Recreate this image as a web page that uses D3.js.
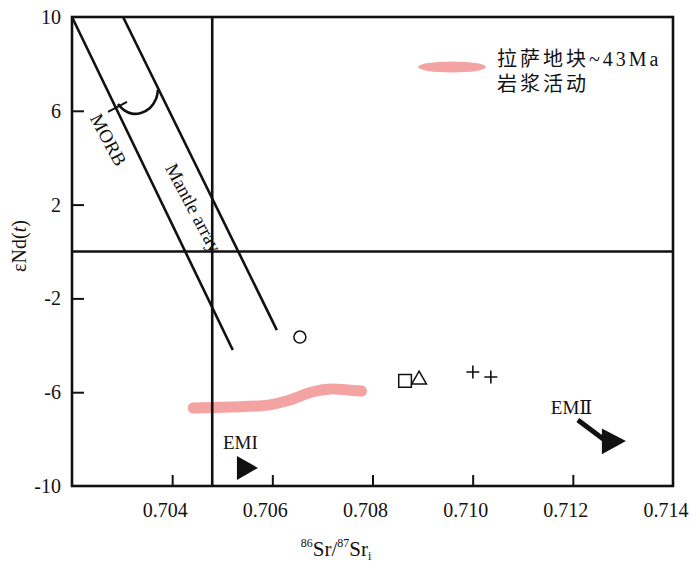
<!DOCTYPE html>
<html><head><meta charset="utf-8">
<script src="https://cdn.jsdelivr.net/npm/d3@7"></script>
<style>html,body{margin:0;padding:0;background:#fff;}</style>
</head><body>
<svg id="c" width="700" height="564"></svg>
<script>
// ---- data ----
const xTicks = [0.704, 0.706, 0.708, 0.710, 0.712, 0.714];
const yTicks = [10, 6, 2, -2, -6, -10];
const xDomain = [0.702, 0.714];
const yDomain = [-10, 10];
const morbLine = [[0.702, 10], [0.70521, -4.2]];
const mantleLine = [[0.70302, 10], [0.70609, -3.35]];
const mantleArc = [[0.702918, 6.29], [0.703038, 6.03], [0.703198, 5.88], [0.703377, 5.91], [0.703557, 6.12], [0.703677, 6.50], [0.703717, 6.89]];
const morbTick = [[0.702719, 5.95], [0.703098, 6.38]];
const verticalRef = 0.7048;
const horizontalRef = 0;
const lhasaBand = [[0.704420, -6.67], [0.70515, -6.63], [0.70591, -6.55], [0.70635, -6.33], [0.70679, -5.99], [0.70715, -5.86], [0.70751, -5.91], [0.70778, -5.95]];
const circles = [[0.70655, -3.65]];
const squares = [[0.70865, -5.52]];
const triangles = [[0.70893, -5.47]];
const pluses = [[0.710004, -5.14], [0.710363, -5.35]];
const emiHead = [[0.705293, -8.72], [0.705293, -9.74], [0.705713, -9.23]];
const emiiShaft = [[0.71210, -7.19], [0.71266, -8.08]];
const emiiHead = [[0.71258, -7.55], [0.71258, -8.65], [0.71306, -8.08]];
const labels = [
  {t: "EMI", x: 0.705014, y: -8.42},
  {t: "EMⅡ", x: 0.711561, y: -6.93}
];
const legendLines = ["拉萨地块~43Ma", "岩浆活动"];

// ---- drawing ----
const svg = d3.select("#c");
const L = 72, R = 673, T = 17, B = 486;
const x = d3.scaleLinear().domain(xDomain).range([L, R]);
const y = d3.scaleLinear().domain(yDomain).range([B, T]);
const serif = "'Liberation Serif','Times New Roman','DejaVu Serif',serif";
const line = d3.line().x(d => x(d[0])).y(d => y(d[1]));

// pink band
svg.append("path").datum(lhasaBand)
  .attr("d", line.curve(d3.curveCatmullRom))
  .attr("fill", "none").attr("stroke", "#f4a3a3").attr("stroke-width", 11)
  .attr("stroke-linecap", "round");
line.curve(d3.curveLinear);

const g = svg.append("g").attr("stroke", "#111").attr("fill", "none").attr("stroke-width", 2.6);

// axes (ticks inward)
const xAxis = d3.axisBottom(x).tickValues(xTicks.filter(v => v < 0.714)).tickSize(-11).tickFormat("");
svg.append("g").attr("transform", `translate(0,${B})`).call(xAxis)
  .call(s => s.select(".domain").remove())
  .call(s => s.selectAll("line").attr("stroke", "#111").attr("stroke-width", 2));
const yAxis = d3.axisLeft(y).tickValues(yTicks.filter(v => v > -10 && v < 10)).tickSize(-12).tickFormat("");
svg.append("g").attr("transform", `translate(${L},0)`).call(yAxis)
  .call(s => s.select(".domain").remove())
  .call(s => s.selectAll("line").attr("stroke", "#111").attr("stroke-width", 2));

// frame
g.append("rect").attr("x", L).attr("y", T).attr("width", R - L).attr("height", B - T);

// reference lines
g.append("line").attr("x1", x(verticalRef)).attr("x2", x(verticalRef)).attr("y1", T).attr("y2", B);
g.append("line").attr("x1", L).attr("x2", R).attr("y1", y(horizontalRef)).attr("y2", y(horizontalRef));
g.append("path").attr("d", line(morbLine));
g.append("path").attr("d", line(mantleLine));
g.append("path").attr("d", d3.line().x(d => x(d[0])).y(d => y(d[1])).curve(d3.curveCatmullRom)(mantleArc));
g.append("path").attr("d", line(morbTick)).attr("stroke-width", 2);

// tick labels
svg.append("g").selectAll("text").data(xTicks).join("text")
  .attr("x", d => x(d) - 7).attr("y", B + 31).attr("text-anchor", "middle")
  .attr("font-family", serif).attr("font-size", 20).attr("fill", "#111")
  .text(d => d3.format(".3f")(d));
svg.append("g").selectAll("text").data(yTicks).join("text")
  .attr("x", 61).attr("y", d => y(d) + 7).attr("text-anchor", "end")
  .attr("font-family", serif).attr("font-size", 20).attr("fill", "#111")
  .text(d => d);

// axis titles
const xt = svg.append("text").attr("x", 336).attr("y", 556).attr("text-anchor", "middle")
  .attr("font-family", serif).attr("font-size", 21).attr("fill", "#111");
xt.append("tspan").attr("font-size", 12).attr("dy", -9).text("86");
xt.append("tspan").attr("dy", 9).text("Sr/");
xt.append("tspan").attr("font-size", 12).attr("dy", -9).text("87");
xt.append("tspan").attr("dy", 9).text("Sr");
xt.append("tspan").attr("font-size", 12).attr("dy", 4).text("i");

const yt = svg.append("text").attr("transform", "translate(26,246) rotate(-90)").attr("text-anchor", "middle")
  .attr("font-family", serif).attr("font-size", 20).attr("fill", "#111");
yt.append("tspan").text("εNd(");
yt.append("tspan").attr("font-style", "italic").text("t");
yt.append("tspan").text(")");

// line labels
svg.append("text").attr("transform", "translate(108,140) rotate(62)").attr("text-anchor", "middle")
  .attr("dy", 6).attr("font-family", serif).attr("font-size", 19).attr("fill", "#111").text("MORB");
svg.append("text").attr("transform", "translate(193,208) rotate(62)").attr("text-anchor", "middle")
  .attr("dy", 6).attr("font-family", serif).attr("font-size", 19).attr("fill", "#111").text("Mantle array");

// points
svg.selectAll(".ci").data(circles).join("circle").attr("cx", d => x(d[0])).attr("cy", d => y(d[1])).attr("r", 6)
  .attr("fill", "none").attr("stroke", "#111").attr("stroke-width", 1.5);
svg.selectAll(".sq").data(squares).join("path").attr("transform", d => `translate(${x(d[0])},${y(d[1])})`)
  .attr("d", d3.symbol(d3.symbolSquare, 160)).attr("fill", "none").attr("stroke", "#111").attr("stroke-width", 1.5);
svg.selectAll(".tr").data(triangles).join("path").attr("transform", d => `translate(${x(d[0])},${y(d[1])})`)
  .attr("d", d3.symbol(d3.symbolTriangle, 95)).attr("fill", "none").attr("stroke", "#111").attr("stroke-width", 1.5);
svg.selectAll(".pl").data(pluses).join("path").attr("transform", d => `translate(${x(d[0])},${y(d[1])})`)
  .attr("d", "M-6.5,0H6.5M0,-6.5V6.5").attr("fill", "none").attr("stroke", "#111").attr("stroke-width", 1.6);

// arrows
svg.append("path").attr("d", line(emiHead) + "Z").attr("fill", "#111");
svg.append("path").attr("d", line(emiiShaft)).attr("stroke", "#111").attr("stroke-width", 5).attr("fill", "none");
svg.append("path").attr("d", line(emiiHead) + "Z").attr("fill", "#111");
svg.selectAll(".lb").data(labels).join("text").attr("x", d => x(d.x)).attr("y", d => y(d.y))
  .attr("font-family", serif).attr("font-size", 19).attr("fill", "#111").text(d => d.t);

// legend
svg.append("ellipse").attr("cx", 452).attr("cy", 67).attr("rx", 34).attr("ry", 5.5).attr("fill", "#f4a3a3");
svg.append("g").selectAll("text").data(legendLines).join("text")
  .attr("x", 497).attr("y", (d, i) => 66 + i * 25)
  .attr("font-family", "'Liberation Serif','Noto Sans CJK SC',serif").attr("font-size", 20)
  .attr("letter-spacing", 3).attr("fill", "#111")
  .text(d => d);
</script>
</body></html>
